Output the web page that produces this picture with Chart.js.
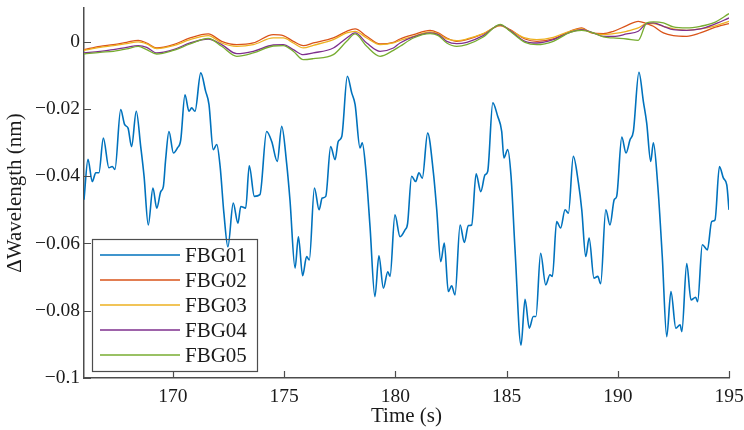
<!DOCTYPE html>
<html>
<head>
<meta charset="utf-8">
<script src="https://cdn.jsdelivr.net/npm/chart.js@4.4.1/dist/chart.umd.min.js"></script>
<style>
  html, body { margin: 0; padding: 0; background: #fff; }
</style>
</head>
<body>
<canvas id="fbgChart" width="744" height="430"></canvas>
<script>
// FBG01 (big swing) - own time points
const t01 = [166.00,166.18,166.37,166.53,166.67,166.87,167.12,167.27,167.39,167.65,167.83,167.98,168.14,168.35,168.55,168.70,168.89,169.10,169.27,169.45,169.57,169.67,169.82,170.02,170.20,170.35,170.54,170.72,170.84,170.99,171.25,171.47,171.62,171.81,171.97,172.12,172.29,172.47,172.71,172.92,173.05,173.27,173.43,173.66,173.91,174.21,174.44,174.69,174.89,175.11,175.26,175.49,175.64,175.83,176.01,176.13,176.36,176.57,176.71,176.87,177.09,177.29,177.43,177.59,177.84,178.04,178.19,178.41,178.51,178.67,178.86,179.08,179.26,179.46,179.66,179.76,179.98,180.21,180.43,180.55,180.73,180.91,181.06,181.21,181.45,181.71,181.86,182.04,182.20,182.38,182.53,182.68,182.91,183.10,183.28,183.43,183.63,183.84,184.03,184.15,184.38,184.60,184.78,184.88,185.05,185.20,185.38,185.65,185.83,186.02,186.20,186.32,186.53,186.76,186.95,187.06,187.25,187.43,187.63,187.78,188.00,188.23,188.38,188.56,188.71,188.93,189.10,189.23,189.46,189.65,189.84,189.95,190.18,190.37,190.55,190.70,190.95,191.15,191.30,191.48,191.60,191.80,192.00,192.20,192.39,192.61,192.80,192.88,193.10,193.29,193.50,193.59,193.80,194.03,194.22,194.37,194.57,194.75,194.90,195.00];
const fbg01 = [-0.0470,-0.0350,-0.0416,-0.0390,-0.0390,-0.0287,-0.0375,-0.0371,-0.0380,-0.0202,-0.0247,-0.0257,-0.0312,-0.0207,-0.0312,-0.0400,-0.0545,-0.0435,-0.0495,-0.0446,-0.0430,-0.0351,-0.0267,-0.0331,-0.0316,-0.0292,-0.0158,-0.0207,-0.0197,-0.0207,-0.0093,-0.0148,-0.0187,-0.0321,-0.0306,-0.0371,-0.0510,-0.0610,-0.0480,-0.0540,-0.0490,-0.0495,-0.0369,-0.0460,-0.0455,-0.0267,-0.0297,-0.0356,-0.0252,-0.0361,-0.0470,-0.0673,-0.0580,-0.0696,-0.0639,-0.0649,-0.0435,-0.0500,-0.0465,-0.0460,-0.0312,-0.0351,-0.0297,-0.0282,-0.0103,-0.0153,-0.0187,-0.0316,-0.0301,-0.0380,-0.0550,-0.0758,-0.0637,-0.0733,-0.0684,-0.0698,-0.0515,-0.0580,-0.0560,-0.0540,-0.0400,-0.0416,-0.0390,-0.0406,-0.0272,-0.0390,-0.0500,-0.0654,-0.0599,-0.0743,-0.0726,-0.0753,-0.0545,-0.0597,-0.0547,-0.0545,-0.0393,-0.0446,-0.0396,-0.0386,-0.0182,-0.0222,-0.0267,-0.0346,-0.0321,-0.0400,-0.0619,-0.0902,-0.0766,-0.0852,-0.0817,-0.0817,-0.0629,-0.0723,-0.0693,-0.0698,-0.0535,-0.0554,-0.0500,-0.0510,-0.0341,-0.0420,-0.0500,-0.0639,-0.0584,-0.0703,-0.0698,-0.0720,-0.0500,-0.0545,-0.0470,-0.0460,-0.0284,-0.0331,-0.0292,-0.0267,-0.0091,-0.0178,-0.0242,-0.0356,-0.0301,-0.0430,-0.0639,-0.0877,-0.0743,-0.0852,-0.0842,-0.0862,-0.0660,-0.0768,-0.0760,-0.0773,-0.0604,-0.0619,-0.0535,-0.0530,-0.0371,-0.0406,-0.0426,-0.0500];

// FBG02..FBG05 (the flat group near zero) share one set of time points
const tTop = [166.00,166.72,167.32,167.92,168.44,168.82,169.27,170.02,170.77,171.59,172.19,172.87,173.61,174.51,174.96,175.41,175.86,176.31,177.21,177.81,178.19,178.71,179.31,179.91,180.21,180.81,181.56,181.93,182.31,182.76,183.21,183.95,184.71,185.16,185.83,186.36,187.10,187.85,188.38,188.83,189.35,189.80,190.40,190.92,191.30,191.60,192.05,192.50,193.10,193.71,194.30,195.00];
const fbg02 = [-0.00238,-0.00139,-0.00089,-0.00020,0.00040,-0.00040,-0.00188,-0.00089,0.00109,0.00228,0.00010,-0.00089,-0.00040,0.00208,0.00179,0.00010,-0.00119,-0.00040,0.00109,0.00308,0.00377,0.00159,-0.00069,-0.00020,0.00079,0.00208,0.00337,0.00258,0.00109,0.00010,0.00060,0.00228,0.00476,0.00357,0.00079,0.00010,0.00079,0.00308,0.00407,0.00258,0.00238,0.00308,0.00476,0.00605,0.00536,0.00456,0.00258,0.00179,0.00159,0.00258,0.00407,0.00536];
const fbg03 = [-0.00258,-0.00169,-0.00119,-0.00060,-0.00010,-0.00069,-0.00208,-0.00119,0.00060,0.00179,-0.00040,-0.00139,-0.00089,0.00109,0.00109,-0.00040,-0.00188,-0.00109,0.00060,0.00258,0.00308,0.00109,-0.00089,-0.00040,0.00040,0.00159,0.00288,0.00228,0.00079,0.00030,0.00079,0.00238,0.00476,0.00337,0.00109,0.00060,0.00129,0.00308,0.00377,0.00258,0.00208,0.00238,0.00308,0.00407,0.00536,0.00536,0.00456,0.00377,0.00337,0.00377,0.00456,0.00605];
const fbg04 = [-0.00337,-0.00288,-0.00238,-0.00169,-0.00119,-0.00169,-0.00337,-0.00238,-0.00040,0.00079,-0.00089,-0.00357,-0.00288,-0.00100,-0.00089,-0.00238,-0.00387,-0.00337,-0.00188,0.00109,0.00258,-0.00040,-0.00288,-0.00188,-0.00040,0.00139,0.00258,0.00208,0.00010,-0.00060,-0.00020,0.00179,0.00496,0.00327,0.00010,-0.00040,0.00060,0.00278,0.00357,0.00278,0.00159,0.00159,0.00228,0.00308,0.00536,0.00556,0.00456,0.00357,0.00337,0.00377,0.00506,0.00704];
const fbg05 = [-0.00367,-0.00317,-0.00288,-0.00218,-0.00139,-0.00238,-0.00367,-0.00258,-0.00069,0.00099,-0.00139,-0.00436,-0.00337,-0.00130,-0.00119,-0.00288,-0.00536,-0.00506,-0.00387,0.00010,0.00228,-0.00139,-0.00436,-0.00258,-0.00139,0.00109,0.00238,0.00179,-0.00040,-0.00139,-0.00089,0.00139,0.00516,0.00308,-0.00020,-0.00089,0.00010,0.00278,0.00337,0.00278,0.00139,0.00109,0.00079,0.00040,0.00556,0.00585,0.00556,0.00436,0.00407,0.00456,0.00556,0.00833];

const seriesNames = ['FBG01', 'FBG02', 'FBG03', 'FBG04', 'FBG05'];
const xTicks = [170, 175, 180, 185, 190, 195];
const yTicks = [-0.1, -0.08, -0.06, -0.04, -0.02, 0];

// matlab default colour order
const lineColors = ['#0072BD', '#D95319', '#EDB120', '#7E2F8E', '#77AC30'];
const axisColor = '#4d4d4d';
const textColor = '#1a1a1a';
const serif = '"Liberation Serif", "Times New Roman", serif';

function toPoints(ts, vs) {
  return ts.map((t, i) => ({ x: t, y: vs[i] }));
}

const allSeries = [
  toPoints(t01, fbg01),
  toPoints(tTop, fbg02),
  toPoints(tTop, fbg03),
  toPoints(tTop, fbg04),
  toPoints(tTop, fbg05)
];

// inward tick marks, like matlab
const innerTicks = {
  id: 'innerTicks',
  afterDatasetsDraw(chart) {
    const { ctx, chartArea: a } = chart;
    const xs = chart.scales.x, ys = chart.scales.y;
    ctx.save();
    ctx.strokeStyle = axisColor;
    ctx.lineWidth = 1.2;
    ctx.beginPath();
    xTicks.forEach(v => {
      const px = Math.round(xs.getPixelForValue(v)) + 0.5;
      ctx.moveTo(px, a.bottom);
      ctx.lineTo(px, a.bottom - 7);
    });
    yTicks.forEach(v => {
      const py = Math.round(ys.getPixelForValue(v)) + 0.5;
      ctx.moveTo(a.left, py);
      ctx.lineTo(a.left + 7, py);
    });
    ctx.stroke();
    ctx.restore();
  }
};

// boxed legend in the lower left corner of the plot
const boxLegend = {
  id: 'boxLegend',
  afterDraw(chart) {
    const { ctx, chartArea: a } = chart;
    const left = a.left + 8, bottom = a.bottom - 7;
    const w = 165, h = 132, top = bottom - h;
    ctx.save();
    ctx.strokeStyle = axisColor;
    ctx.lineWidth = 1.2;
    ctx.strokeRect(Math.round(left) + 0.5, Math.round(top) + 0.5, w, h);
    ctx.font = '21px ' + serif;
    ctx.textBaseline = 'middle';
    ctx.fillStyle = textColor;
    chart.data.datasets.forEach((ds, i) => {
      const y = top + 16 + i * 25;
      ctx.strokeStyle = ds.borderColor;
      ctx.lineWidth = ds.borderWidth;
      ctx.beginPath();
      ctx.moveTo(left + 8, y);
      ctx.lineTo(left + 88, y);
      ctx.stroke();
      ctx.fillText(ds.label, left + 93, y + 1);
    });
    ctx.restore();
  }
};

const ctx = document.getElementById('fbgChart').getContext('2d');
const fbgChart = new Chart(ctx, {
  type: 'line',
  data: {
    datasets: seriesNames.map((name, i) => ({
      label: name,
      data: allSeries[i],
      borderColor: lineColors[i],
      borderWidth: i === 0 ? 1.6 : 1.3,
      pointRadius: 0,
      fill: false,
      cubicInterpolationMode: 'monotone',
      order: seriesNames.length - i
    }))
  },
  options: {
    responsive: false,
    animation: false,
    layout: { padding: { top: 8, right: 15, left: 0, bottom: 0 } },
    plugins: {
      legend: { display: false },
      tooltip: { enabled: false }
    },
    scales: {
      x: {
        type: 'linear',
        min: 166,
        max: 195,
        afterBuildTicks: s => { s.ticks = xTicks.map(v => ({ value: v })); },
        afterFit: s => { s.height = 52; s.paddingLeft = 0; s.paddingRight = 0; },
        grid: { display: false, drawTicks: false },
        border: { display: true, color: axisColor, width: 1.5 },
        ticks: {
          padding: 7,
          maxRotation: 0,
          autoSkip: false,
          color: textColor,
          font: { family: serif, size: 19.5 },
          callback: v => String(v)
        },
        title: {
          display: true,
          text: 'Time (s)',
          color: textColor,
          font: { family: serif, size: 21, lineHeight: 1 },
          padding: { top: 0, bottom: 3 }
        }
      },
      y: {
        type: 'linear',
        min: -0.1,
        max: 0.01,
        afterBuildTicks: s => { s.ticks = yTicks.map(v => ({ value: v })); },
        afterFit: s => { s.width = 84; s.paddingTop = 0; s.paddingBottom = 0; },
        grid: { display: false, drawTicks: false },
        border: { display: true, color: axisColor, width: 1.5 },
        ticks: {
          padding: 4,
          color: textColor,
          font: { family: serif, size: 19.5 },
          callback: v => v === 0 ? '0' : '\u2212' + Math.abs(v)
        },
        title: {
          display: true,
          text: '\u0394Wavelength (nm)',
          color: textColor,
          font: { family: serif, size: 21, lineHeight: 1 },
          padding: { top: 5, bottom: 0 }
        }
      }
    }
  },
  plugins: [innerTicks, boxLegend]
});
</script>
</body>
</html>
